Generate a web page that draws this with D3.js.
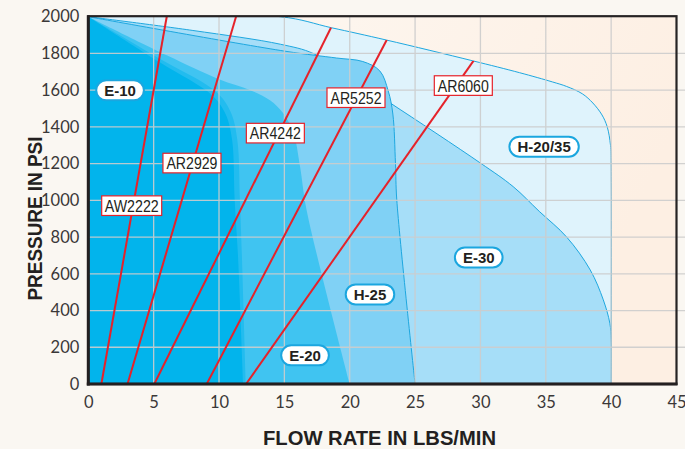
<!DOCTYPE html>
<html><head><meta charset="utf-8">
<script src="https://cdn.jsdelivr.net/npm/d3@7"></script>
<style>html,body{margin:0;padding:0;background:#faf7f2;} svg{display:block;}</style>
</head><body>
<svg id="chart" width="685" height="449"></svg>
<script>
// ---------- data ----------
const xTicks = [0, 5, 10, 15, 20, 25, 30, 35, 40, 45];
const yTicks = [0, 200, 400, 600, 800, 1000, 1200, 1400, 1600, 1800, 2000];

// region outlines: [flow (lbs/min), pressure (psi)]
const regionNames = ["H-20/35", "E-30", "H-25", "E-20", "E-10"];
const h2035Outline = [[0,2000],[14.7,2000],[18.6,1940],[22.8,1873],[29.4,1760],[33,1695],[35.5,1645],[36.6,1620],[37.8,1580],[38.6,1530],[39.3,1465],[39.7,1400],[39.95,1300],[40,1200],[40,0]];
const e30Outline = [[0,2000],[8,1925],[14.7,1850],[17.2,1800],[20,1672],[23.1,1530],[30,1203],[32.5,1075],[34.5,940],[36.6,800],[38.4,621],[39.4,458],[39.9,331],[40,240],[40,0]];
const h25Outline = [[0,2000],[15.07,1812],[19,1775],[21,1756],[22.3,1705],[22.95,1595],[23.3,1470],[23.5,1200],[23.6,1003],[25,0]];
const e20Outline = [[0,2000],[6,1790],[10,1660],[12.4,1600],[13.9,1545],[14.9,1475],[15.7,1366],[16.2,1184],[16.7,948],[20,0]];
const e10HaloOutline = [[0,2000],[5.5,1770],[9.8,1590],[10.9,1480],[11.4,1330],[11.6,1000],[11.75,700],[12.05,0]];
const e10Outline = [[0,2000],[5.5,1750],[9.5,1570],[10.5,1470],[11.0,1330],[11.2,1000],[11.45,700],[11.85,0]];
const regionLabelAt = [[34.87,1292],[29.87,689],[21.55,488],[16.58,156],[2.43,1599]];

// nozzle lines
const nozzleNames = ["AW2222", "AR2929", "AR4242", "AR5252", "AR6060"];
const nozzleFlowAt0 = [1, 3, 5.05, 9.06, 12.07];
const nozzleFlowAt2000 = [6, 11.3, 18.98, 23.76, 31.85];
const nozzleLabelAt = [[3.32,971],[7.93,1203],[14.31,1366],[20.48,1559],[28.69,1625]];

// ---------- drawing ----------
const W = 685, H = 449, L = 88.3, R = 676.5, T = 16.7, B = 384;
const x = d3.scaleLinear().domain([0, 45]).range([L, R]);
const y = d3.scaleLinear().domain([0, 2000]).range([B, T]);
const svg = d3.select("#chart");
svg.append("rect").attr("width", W).attr("height", H).attr("fill", "#faf7f2");
const defs = svg.append("defs");
const grad = defs.append("linearGradient").attr("id", "bg").attr("x1", 0).attr("x2", 1).attr("y1", 0).attr("y2", 0.3);
grad.append("stop").attr("offset", 0).attr("stop-color", "#fdf9f4");
grad.append("stop").attr("offset", 1).attr("stop-color", "#fdefe3");

defs.append("clipPath").attr("id", "plotClip").append("rect")
  .attr("x", L).attr("y", T).attr("width", R - L).attr("height", B - T);

const curve = d3.line().x(d => x(d[0])).y(d => y(d[1])).curve(d3.curveCatmullRom.alpha(0.5));
const regionPath = pts => curve(pts) + "L" + x(0) + "," + y(0) + "Z";

defs.append("clipPath").attr("id", "hClip").append("path").attr("d", regionPath(h2035Outline));

svg.append("rect").attr("x", L).attr("y", T).attr("width", R - L).attr("height", B - T).attr("fill", "url(#bg)");

const shapes = svg.append("g").attr("clip-path", "url(#plotClip)");
const stroke = "#1ea7df";
const regions = [
  {pts: h2035Outline, fill: "#dff3fc", stroke: stroke},
  {pts: e30Outline, fill: "#a6def8", stroke: stroke},
  {pts: h25Outline, fill: "#80d1f5", stroke: stroke},
  {pts: e20Outline, fill: "#40c4f1", stroke: "none"},
  {pts: e10HaloOutline, fill: "#22bcef", stroke: "none"},
  {pts: e10Outline, fill: "#02b4ec", stroke: "none"}
];
shapes.selectAll("path.region").data(regions).join("path")
  .attr("class", "region")
  .attr("d", d => regionPath(d.pts))
  .attr("fill", d => d.fill)
  .attr("stroke", d => d.stroke)
  .attr("stroke-width", 1);

// grid
const grid = svg.append("g").attr("stroke", "#cdcdcd").attr("stroke-width", 1.3).attr("opacity", 0.9);
grid.selectAll("line.v").data(xTicks.filter(v => v > 0 && v < 45)).join("line")
  .attr("class", "v").attr("x1", d => x(d)).attr("x2", d => x(d)).attr("y1", T).attr("y2", B);
grid.selectAll("line.h").data(yTicks.filter(v => v > 0 && v < 2000)).join("line")
  .attr("class", "h").attr("x1", L).attr("x2", W).attr("y1", d => y(d)).attr("y2", d => y(d));

// nozzle lines
const nz = svg.append("g").attr("clip-path", "url(#plotClip)").append("g").attr("clip-path", "url(#hClip)");
nz.selectAll("line").data(nozzleNames).join("line")
  .attr("x1", (d, i) => x(nozzleFlowAt0[i])).attr("y1", y(0))
  .attr("x2", (d, i) => x(nozzleFlowAt2000[i])).attr("y2", y(2000))
  .attr("stroke", "#e5222a").attr("stroke-width", 2);

// frame
svg.append("rect").attr("x", L).attr("y", T - 0.5).attr("width", R - L).attr("height", B - T + 0.5)
  .attr("fill", "none").attr("stroke", "#262324").attr("stroke-width", 2.2);
svg.append("line").attr("x1", L).attr("x2", L).attr("y1", T - 1.5).attr("y2", B + 1.5).attr("stroke", "#231f20").attr("stroke-width", 3);
svg.append("line").attr("x1", L - 1.5).attr("x2", R + 1).attr("y1", B).attr("y2", B).attr("stroke", "#231f20").attr("stroke-width", 3);

// axes
const tickFont = "Lato, 'Noto Sans', sans-serif";
const yAxis = svg.append("g").attr("transform", `translate(${L - 1},0)`)
  .call(d3.axisLeft(y).tickValues(yTicks).tickSize(0).tickPadding(8).tickFormat(d3.format("d")));
const xAxis = svg.append("g").attr("transform", `translate(0,${B})`)
  .call(d3.axisBottom(x).tickValues(xTicks).tickSize(0).tickPadding(12.5).tickFormat(d3.format("d")));
[yAxis, xAxis].forEach(a => {
  a.select(".domain").remove();
  a.selectAll("text").attr("font-family", tickFont).attr("font-size", 16.5).attr("fill", "#3a3838");
});

// axis titles
svg.append("text").attr("x", 379.5).attr("y", 445).attr("text-anchor", "middle")
  .attr("font-family", "'Liberation Sans', Arial, sans-serif").attr("font-weight", "bold").attr("font-size", 20.5)
  .attr("fill", "#231f20").attr("textLength", 233).attr("lengthAdjust", "spacingAndGlyphs")
  .text("FLOW RATE IN LBS/MIN");
svg.append("text").attr("transform", "translate(41.5,218.5) rotate(-90)").attr("text-anchor", "middle")
  .attr("font-family", "'Liberation Sans', Arial, sans-serif").attr("font-weight", "bold").attr("font-size", 20.5)
  .attr("fill", "#231f20").attr("textLength", 164).attr("lengthAdjust", "spacingAndGlyphs")
  .text("PRESSURE IN PSI");

// region labels (pills)
const pills = svg.append("g").selectAll("g").data(regionNames).join("g")
  .attr("transform", (d, i) => `translate(${x(regionLabelAt[i][0])},${y(regionLabelAt[i][1])})`);
pills.append("text").attr("text-anchor", "middle").attr("dy", "0.36em")
  .attr("font-family", "'Liberation Sans', Arial, sans-serif").attr("font-weight", "bold").attr("font-size", 15)
  .attr("fill", "#231f20").text(d => d);
pills.each(function() {
  const g = d3.select(this);
  const w = g.select("text").node().getComputedTextLength() + 16;
  g.insert("rect", "text").attr("x", -w / 2).attr("y", -10).attr("width", w).attr("height", 20)
    .attr("rx", 10).attr("fill", "#fff").attr("stroke", "#1ba6df").attr("stroke-width", 2);
});

// nozzle labels
const nl = svg.append("g").selectAll("g").data(nozzleNames).join("g")
  .attr("transform", (d, i) => `translate(${x(nozzleLabelAt[i][0])},${y(nozzleLabelAt[i][1])})`);
nl.append("rect").attr("x", d => d === "AW2222" ? -30 : -29).attr("y", -9.8)
  .attr("width", d => d === "AW2222" ? 60 : 58).attr("height", 19.6)
  .attr("fill", "#fff").attr("stroke", "#e5222a").attr("stroke-width", 1.2);
nl.append("text").attr("text-anchor", "middle").attr("dy", "0.36em")
  .attr("font-family", "'Liberation Sans', Arial, sans-serif").attr("font-size", 17)
  .attr("fill", "#231f20").attr("textLength", d => d === "AW2222" ? 54 : 51).attr("lengthAdjust", "spacingAndGlyphs")
  .text(d => d);
</script>
</body></html>
